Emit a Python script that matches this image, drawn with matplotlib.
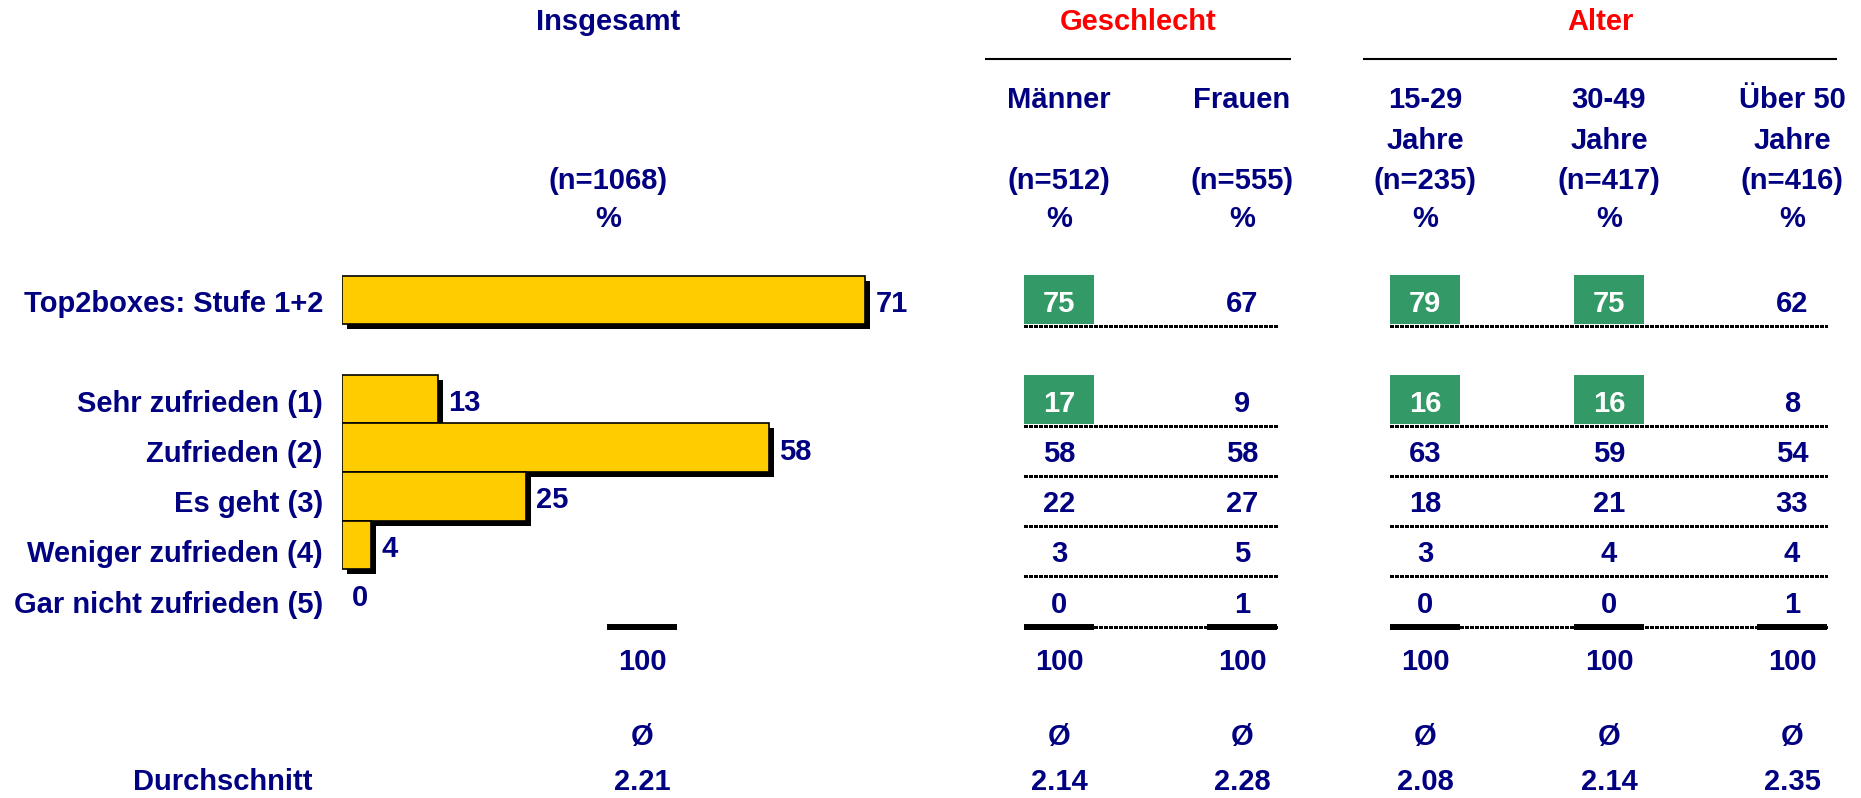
import matplotlib
matplotlib.use("Agg")
import matplotlib.pyplot as plt
from matplotlib.patches import Rectangle

# ---------------------------------------------------------------------------
# Daten
# ---------------------------------------------------------------------------
kategorien = ["Sehr zufrieden (1)", "Zufrieden (2)", "Es geht (3)",
              "Weniger zufrieden (4)", "Gar nicht zufrieden (5)"]
top2_label = "Top2boxes: Stufe 1+2"

gesamt_n = 1068
gesamt_top2 = 71
gesamt_werte = [13, 58, 25, 4, 0]
gesamt_summe = 100
gesamt_mittel = "2.21"

spalten = ["Männer", "Frauen", "15-29\nJahre", "30-49\nJahre", "Über 50\nJahre"]
spalten_n = [512, 555, 235, 417, 416]
spalten_top2 = [75, 67, 79, 75, 62]
spalten_werte = [
    [17, 58, 22, 3, 0],
    [9, 58, 27, 5, 1],
    [16, 63, 18, 3, 0],
    [16, 59, 21, 4, 0],
    [8, 54, 33, 4, 1],
]
spalten_summe = [100, 100, 100, 100, 100]
spalten_mittel = ["2.14", "2.28", "2.08", "2.14", "2.35"]
# signifikant hoeher (gruen hinterlegt): [top2, Stufe 1]
markiert = [
    [True, True],
    [False, False],
    [True, True],
    [True, True],
    [False, False],
]
gruppen = [("Geschlecht", [0, 1]), ("Alter", [2, 3, 4])]

# ---------------------------------------------------------------------------
# Layout (Pixel)
# ---------------------------------------------------------------------------
W, H = 1861, 798
NAVY = "#000080"
ROT = "#FF0000"
GOLD = "#FFCC00"
GRUEN = "#339966"
FS = 21

plt.rcParams["font.family"] = ["Liberation Sans", "DejaVu Sans"]
plt.rcParams["font.weight"] = "bold"

fig = plt.figure(figsize=(W / 100, H / 100), dpi=100)
ax = fig.add_axes([0, 0, 1, 1])
ax.set_xlim(0, W)
ax.set_ylim(H, 0)
ax.axis("off")

zeilen_y = [404, 454, 504, 554, 605]
top2_y = 304
spalten_x = [1059, 1242, 1425, 1609, 1792]
ges_kopf_x = 608
ges_x = 642
halb = 35
gruppen_linie = {"Geschlecht": (74, 49), "Alter": (62, 45)}


def txt(x, y, s, farbe=NAVY, ha="center", **kw):
    ax.text(x, y, s, color=farbe, fontsize=FS, ha=ha, va="center", **kw)


# Kopfzeilen
txt(ges_kopf_x, 22, "Insgesamt")
txt(ges_kopf_x, 181, f"(n={gesamt_n})")
txt(ges_kopf_x, 219, "%")

for name, idx in gruppen:
    links, rechts = gruppen_linie[name]
    x0 = spalten_x[idx[0]] - links
    x1 = spalten_x[idx[-1]] + rechts
    txt((x0 + x1) / 2, 22, name, farbe=ROT)
    ax.plot([x0, x1], [59, 59], color="black", lw=1.5, solid_capstyle="butt")

for x, name, n in zip(spalten_x, spalten, spalten_n):
    for k, teil in enumerate(name.split("\n")):
        txt(x, 100 + 41 * k, teil)
    txt(x, 181, f"(n={n})")
    txt(x, 219, "%")

# Zeilenbeschriftung
txt(323, top2_y, top2_label, ha="right")
for y, k in zip(zeilen_y, kategorien):
    txt(323, y, k, ha="right")

# Tabellenwerte
punkte = dict(color="black", lw=2.0, linestyle=(0, (1.1, 0.6)),
              solid_capstyle="butt", antialiased=False)
for j, x in enumerate(spalten_x):
    werte = [spalten_top2[j]] + spalten_werte[j]
    ys = [top2_y] + zeilen_y
    for i, (y, v) in enumerate(zip(ys, werte)):
        farbe = NAVY
        if i < 2 and markiert[j][i]:
            ax.add_patch(Rectangle((x - halb, y - 29), 2 * halb, 49,
                                   facecolor=GRUEN, edgecolor="none", zorder=1))
            farbe = "white"
        txt(x, y, str(v), farbe=farbe, zorder=2)
    txt(x, 662, str(spalten_summe[j]))
    txt(x, 737, "Ø")
    txt(x, 782, spalten_mittel[j])
    ax.plot([x - halb, x + halb], [627, 627], color="black", lw=4.3,
            solid_capstyle="butt", zorder=3)

for name, idx in gruppen:
    x0 = spalten_x[idx[0]] - halb
    x1 = spalten_x[idx[-1]] + halb
    for y in [top2_y] + zeilen_y:
        ax.plot([x0, x1], [y + 22, y + 22], **punkte)

# Insgesamt Summe und Mittelwert
ax.plot([ges_x - halb, ges_x + halb], [627, 627], color="black", lw=4.3, solid_capstyle="butt")
txt(ges_x, 662, str(gesamt_summe))
txt(ges_x, 737, "Ø")
txt(ges_x, 782, gesamt_mittel)
txt(223, 782, "Durchschnitt")

# ---------------------------------------------------------------------------
# Balken (eigene Achse in Prozent)
# ---------------------------------------------------------------------------
px_pro_prozent = 7.37
bar_links = 342
bar_breite_px = 700
bx = fig.add_axes([bar_links / W, 0, bar_breite_px / W, 1])
bx.set_xlim(0, bar_breite_px / px_pro_prozent)
bx.set_ylim(H, 0)
bx.axis("off")

bar_y = [300] + [399 + 48.7 * i for i in range(len(gesamt_werte))]
bar_h = [48] + [48.7] * len(gesamt_werte)
bar_v = [gesamt_top2] + gesamt_werte
dx = 5 / px_pro_prozent
dy = 5
kanten = [1.2 if v > 0 else 0 for v in bar_v]

bx.barh([y + dy for y in bar_y], bar_v, height=bar_h, left=dx,
        color="black", lw=0, zorder=1)
bx.barh(bar_y, bar_v, height=bar_h, color=GOLD, edgecolor="black", lw=kanten, zorder=2)
for y, v in zip(bar_y, bar_v):
    bx.text(v + 10 / px_pro_prozent, y + 4, str(v), color=NAVY, fontsize=FS,
            ha="left", va="center", zorder=3)

fig.savefig("out.png", dpi=100)
